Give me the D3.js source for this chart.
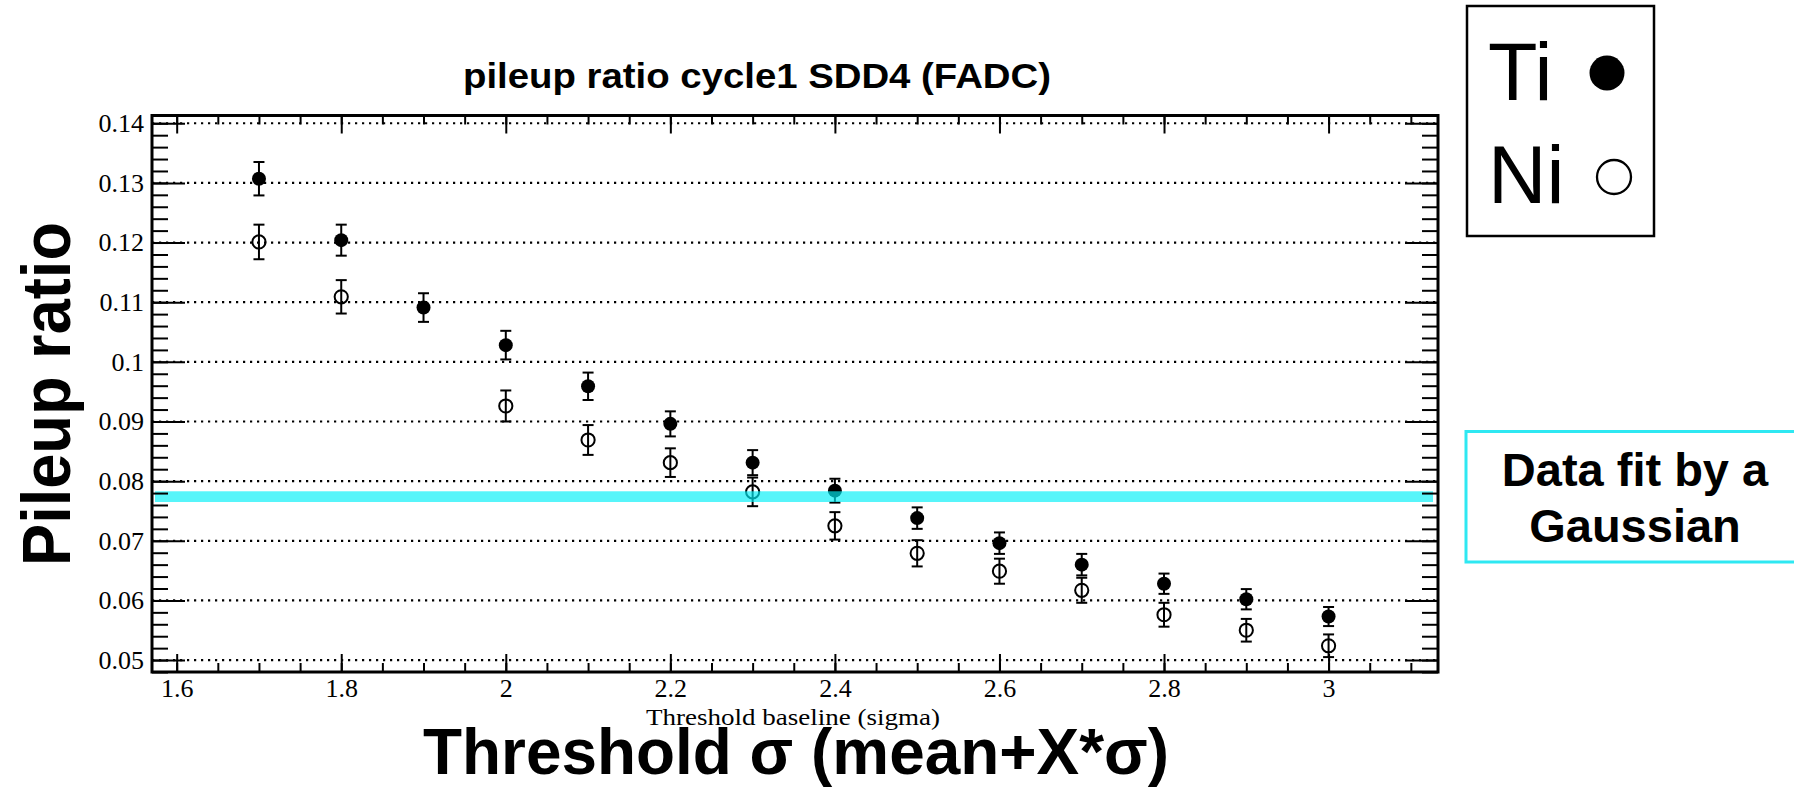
<!DOCTYPE html>
<html>
<head>
<meta charset="utf-8">
<script src="https://cdn.jsdelivr.net/npm/d3@7"></script>
<style>
  html, body { margin: 0; padding: 0; background: #fff; }
  svg { display: block; }
</style>
</head>
<body>
<svg id="chart" width="1794" height="793"></svg>
<script>
// Pileup ratio vs. trigger threshold (in units of baseline sigma), cycle 1, SDD4 (FADC)
const thresholds = [1.7, 1.8, 1.9, 2.0, 2.1, 2.2, 2.3, 2.4, 2.5, 2.6, 2.7, 2.8, 2.9, 3.0];
const tiRatio = [0.1307, 0.1204, 0.1091, 0.1028, 0.0959, 0.0896, 0.0831, 0.0784, 0.0738, 0.0696, 0.0660, 0.0628, 0.0602, 0.0573];
const tiError = [0.0028, 0.0026, 0.0024, 0.0024, 0.0023, 0.0021, 0.0021, 0.0020, 0.0018, 0.0018, 0.0018, 0.0017, 0.0017, 0.0016];
const niRatio = [0.1201, 0.1109, null, 0.0926, 0.0869, 0.0831, 0.0782, 0.0725, 0.0679, 0.0649, 0.0617, 0.0576, 0.0550, 0.0524];
const niError = [0.0029, 0.0028, null, 0.0026, 0.0025, 0.0024, 0.0024, 0.0023, 0.0022, 0.0021, 0.0021, 0.0020, 0.0019, 0.0019];

// Gaussian fit level drawn as a horizontal band
const fitValue = 0.0774;
const fitHalfWidth = 0.0009;

const xTickValues = [1.6, 1.8, 2.0, 2.2, 2.4, 2.6, 2.8, 3.0];
const yTickValues = [0.05, 0.06, 0.07, 0.08, 0.09, 0.10, 0.11, 0.12, 0.13, 0.14];
const xDomain = [1.57, 3.133];
const yDomain = [0.048, 0.1413];
const legendLabels = ["Ti", "Ni"];

const titleText = "pileup ratio cycle1 SDD4 (FADC)";
const xAxisText = "Threshold baseline (sigma)";
const xTitleText = "Threshold σ (mean+X*σ)";
const yTitleText = "Pileup ratio";
const fitNoteLines = ["Data fit by a", "Gaussian"];

// ---- layout ----
const frame = { left: 152, right: 1438, top: 115.5, bottom: 672 };
const svg = d3.select("#chart");

const x = d3.scaleLinear().domain(xDomain).range([frame.left, frame.right]);
const y = d3.scaleLinear().domain(yDomain).range([frame.bottom, frame.top]);

const xMinor = d3.range(0, 40).map(i => +(1.6 + i * 0.05).toFixed(2)).filter(v => v >= xDomain[0] && v <= xDomain[1]);
const yMinor = d3.range(0, 60).map(i => +(0.048 + i * 0.002).toFixed(3)).filter(v => v >= yDomain[0] && v <= yDomain[1]);

const fmtY = d => String(+d.toFixed(2));
const fmtX = d => String(+d.toFixed(1));

// dotted horizontal grid
svg.append("g").selectAll("line").data(yTickValues).join("line")
  .attr("x1", frame.left).attr("x2", frame.right)
  .attr("y1", d => y(d)).attr("y2", d => y(d))
  .attr("stroke", "#000").attr("stroke-width", 2.2)
  .attr("stroke-dasharray", "2.2,4.8");

// data points with error bars
function drawSeries(values, errors, filled) {
  const pts = thresholds.map((t, i) => ({ t, v: values[i], e: errors[i] })).filter(d => d.v != null);
  const g = svg.append("g");
  const capHalf = 5.5;
  g.selectAll("line.bar").data(pts).join("line").attr("class", "bar")
    .attr("x1", d => x(d.t)).attr("x2", d => x(d.t))
    .attr("y1", d => y(d.v - d.e)).attr("y2", d => y(d.v + d.e))
    .attr("stroke", "#000").attr("stroke-width", 2);
  g.selectAll("line.capHi").data(pts).join("line").attr("class", "capHi")
    .attr("x1", d => x(d.t) - capHalf).attr("x2", d => x(d.t) + capHalf)
    .attr("y1", d => y(d.v + d.e)).attr("y2", d => y(d.v + d.e))
    .attr("stroke", "#000").attr("stroke-width", 2);
  g.selectAll("line.capLo").data(pts).join("line").attr("class", "capLo")
    .attr("x1", d => x(d.t) - capHalf).attr("x2", d => x(d.t) + capHalf)
    .attr("y1", d => y(d.v - d.e)).attr("y2", d => y(d.v - d.e))
    .attr("stroke", "#000").attr("stroke-width", 2);
  g.selectAll("circle").data(pts).join("circle")
    .attr("cx", d => x(d.t)).attr("cy", d => y(d.v))
    .attr("r", filled ? 7 : 6.6)
    .attr("fill", filled ? "#000" : "none")
    .attr("stroke", "#000").attr("stroke-width", filled ? 0 : 2);
}
drawSeries(niRatio, niError, false);
drawSeries(tiRatio, tiError, true);

// fit band (semi-transparent, sits over the markers)
svg.append("rect")
  .attr("x", frame.left + 3).attr("width", frame.right - frame.left - 8)
  .attr("y", y(fitValue + fitHalfWidth))
  .attr("height", y(fitValue - fitHalfWidth) - y(fitValue + fitHalfWidth))
  .attr("fill", "rgb(0,240,247)").attr("fill-opacity", 0.66);

// axes: ticks point inward, labels on left and bottom only
const tickFont = "'Liberation Serif', 'Times New Roman', serif";
function styleAxis(g) {
  g.select(".domain").remove();
  g.selectAll(".tick line").attr("stroke", "#000").attr("stroke-width", 2);
  g.selectAll(".tick text").attr("font-family", tickFont).attr("font-size", 26).attr("fill", "#000");
}
svg.append("g").attr("transform", `translate(0,${frame.bottom})`)
  .call(d3.axisBottom(x).tickValues(xMinor).tickSize(-9).tickFormat("")).call(styleAxis);
svg.append("g").attr("transform", `translate(0,${frame.bottom})`)
  .call(d3.axisBottom(x).tickValues(xTickValues).tickSize(-18).tickPadding(7).tickFormat(fmtX)).call(styleAxis)
  .selectAll(".tick text").attr("dy", "0.71em");
svg.append("g").attr("transform", `translate(0,${frame.top})`)
  .call(d3.axisTop(x).tickValues(xMinor).tickSize(-9).tickFormat("")).call(styleAxis);
svg.append("g").attr("transform", `translate(0,${frame.top})`)
  .call(d3.axisTop(x).tickValues(xTickValues).tickSize(-18).tickFormat("")).call(styleAxis);

svg.append("g").attr("transform", `translate(${frame.left},0)`)
  .call(d3.axisLeft(y).tickValues(yMinor).tickSize(-16).tickFormat("")).call(styleAxis);
svg.append("g").attr("transform", `translate(${frame.left},0)`)
  .call(d3.axisLeft(y).tickValues(yTickValues).tickSize(-33).tickPadding(8).tickFormat(fmtY)).call(styleAxis);
svg.append("g").attr("transform", `translate(${frame.right},0)`)
  .call(d3.axisRight(y).tickValues(yMinor).tickSize(-16).tickFormat("")).call(styleAxis);
svg.append("g").attr("transform", `translate(${frame.right},0)`)
  .call(d3.axisRight(y).tickValues(yTickValues).tickSize(-33).tickFormat("")).call(styleAxis);

// frame
svg.append("rect")
  .attr("x", frame.left).attr("y", frame.top)
  .attr("width", frame.right - frame.left).attr("height", frame.bottom - frame.top)
  .attr("fill", "none").attr("stroke", "#000").attr("stroke-width", 3);

// titles
const sans = "'Liberation Sans', Arial, Helvetica, sans-serif";
svg.append("text").attr("x", 757).attr("y", 88)
  .attr("text-anchor", "middle").attr("font-family", sans).attr("font-weight", "bold")
  .attr("font-size", 35).attr("textLength", 588).attr("lengthAdjust", "spacingAndGlyphs")
  .text(titleText);
svg.append("text").attr("x", 793).attr("y", 725)
  .attr("text-anchor", "middle").attr("font-family", tickFont)
  .attr("font-size", 24).attr("textLength", 294).attr("lengthAdjust", "spacingAndGlyphs")
  .text(xAxisText);
svg.append("text").attr("x", 796).attr("y", 774)
  .attr("text-anchor", "middle").attr("font-family", sans).attr("font-weight", "bold")
  .attr("font-size", 64).attr("textLength", 746).attr("lengthAdjust", "spacingAndGlyphs")
  .text(xTitleText);
svg.append("text").attr("transform", "translate(70,394) rotate(-90)")
  .attr("text-anchor", "middle").attr("font-family", sans).attr("font-weight", "bold")
  .attr("font-size", 68).attr("textLength", 344).attr("lengthAdjust", "spacingAndGlyphs")
  .text(yTitleText);

// legend
const legend = svg.append("g");
legend.append("rect").attr("x", 1467).attr("y", 6).attr("width", 187).attr("height", 230)
  .attr("fill", "#fff").attr("stroke", "#000").attr("stroke-width", 2.5);
legend.selectAll("text").data(legendLabels).join("text")
  .attr("x", 1488).attr("y", (d, i) => 100 + i * 103)
  .attr("font-family", sans).attr("font-size", 81).attr("fill", "#000")
  .text(d => d);
legend.append("circle").attr("cx", 1607).attr("cy", 73).attr("r", 17.5).attr("fill", "#000");
legend.append("circle").attr("cx", 1614).attr("cy", 177).attr("r", 17)
  .attr("fill", "none").attr("stroke", "#000").attr("stroke-width", 2.3);

// note box about the fit
const note = svg.append("g");
note.append("rect").attr("x", 1466).attr("y", 431.5).attr("width", 360).attr("height", 130.5)
  .attr("fill", "#fff").attr("stroke", "#2ee8f2").attr("stroke-width", 3);
note.selectAll("text").data(fitNoteLines).join("text")
  .attr("x", 1635).attr("y", (d, i) => 486 + i * 56)
  .attr("text-anchor", "middle").attr("font-family", sans).attr("font-weight", "bold")
  .attr("font-size", 47).attr("fill", "#000")
  .text(d => d);
</script>
</body>
</html>
